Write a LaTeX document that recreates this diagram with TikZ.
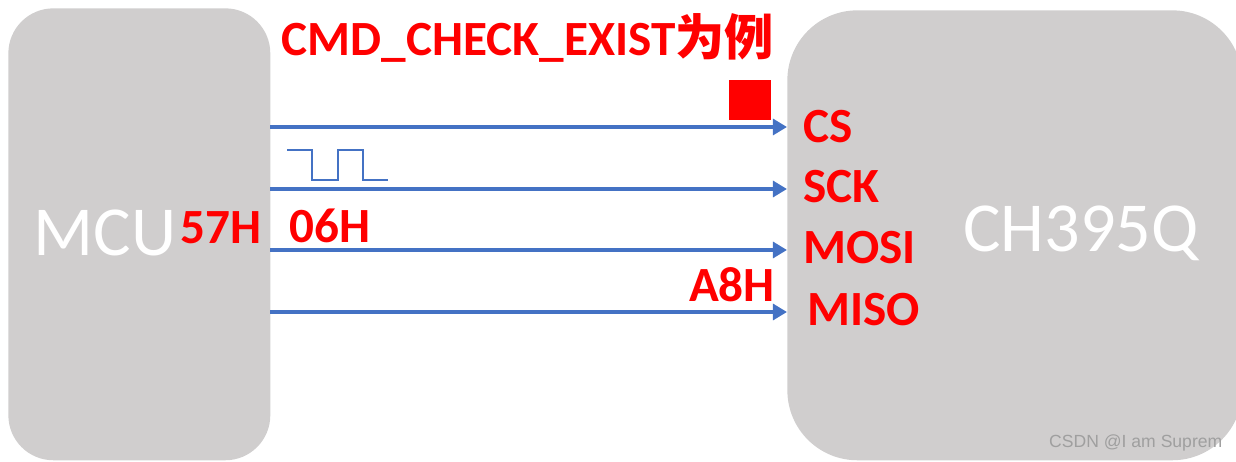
\documentclass[tikz,border=0pt]{standalone}
\usepackage{fontspec}
\setmainfont{Carlito}
\newfontfamily\cjk{Noto Sans CJK SC}
\newfontfamily\wmfont{Liberation Sans}
\usetikzlibrary{arrows.meta,positioning}

\definecolor{chipgray}{RGB}{208,206,206}
\definecolor{linkblue}{RGB}{68,114,196}

\tikzset{
  chip/.style={fill=chipgray, anchor=north west, inner sep=0pt},
  chiptext/.style={text=white, font=\fontsize{40}{40}\selectfont},
  redlbl/.style={text=red, font=\bfseries\fontsize{28}{28}\selectfont, inner sep=0pt},
  pinlbl/.style={redlbl, anchor=west},
  sig/.style={linkblue, line width=2pt, -{Triangle[length=8pt,width=9pt]}},
  wave/.style={linkblue, line width=0.6pt}
}

\begin{document}
\begin{tikzpicture}[x=0.02cm, y=0.02cm]
  \useasboundingbox (0,0) rectangle (1236,-462);

  % the two chips
  \node[chip, rounded corners=0.9cm, minimum width=5.24cm, minimum height=9.04cm] (mcu) at (8,-8) {};
  \node[chip, rounded corners=1.4cm, minimum width=9.1cm, minimum height=9cm] (ch) at (787,-10) {};
  \node[chiptext] (mcuname) at (105,-233) {MCU};
  \node[chiptext] (chname) at (1081,-233) {CH395Q};

  % title
  \node[redlbl] (title) at (528,-38) {CMD\_CHECK\_EXIST{\cjk 为例}};

  % pins
  \node[pinlbl] (cs) at (803,-127) {CS};
  \node[pinlbl] (sck) at (803,-187) {SCK};
  \node[pinlbl] (mosi) at (803,-248) {MOSI};
  \node[pinlbl] (miso) at (807,-310) {MISO};

  \coordinate (l1) at (270,-127);
  \coordinate (l2) at (270,-189);
  \coordinate (l3) at (270,-250);
  \coordinate (l4) at (270,-312);
  \draw[sig] (l1) -- (l1 -| ch.west);
  \draw[sig] (l2) -- (l2 -| ch.west);
  \draw[sig] (l3) -- (l3 -| ch.west);
  \draw[sig] (l4) -- (l4 -| ch.west);

  % chip select low, clock, data bytes
  \fill[red] (729,-80) rectangle (771,-120);
  \draw[wave] (287,-150) -- (312,-150) -- (312,-180) -- (338,-180) -- (338,-150)
    -- (363,-150) -- (363,-180) -- (388,-180);
  \node[redlbl] (b57) at (221,-228) {57H};
  \node[redlbl] (b06) at (330,-226) {06H};
  \node[redlbl] (ba8) at (732,-285) {A8H};

  \node[text=gray!75, font=\wmfont\fontsize{10}{10}\selectfont, anchor=west] (wm) at (1043,-443) {CSDN @I am Suprem};
\end{tikzpicture}
\end{document}
